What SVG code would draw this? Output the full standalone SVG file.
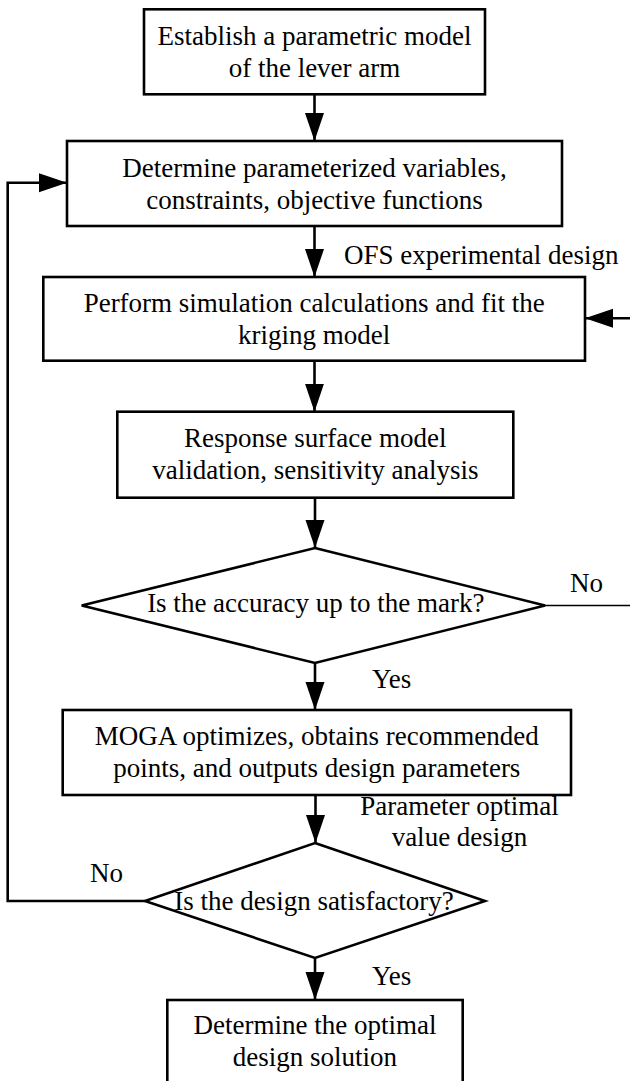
<svg xmlns="http://www.w3.org/2000/svg" width="630" height="1081" viewBox="0 0 630 1081">
  <style>
    .node rect, .node polygon { fill: #ffffff; stroke: #000000; stroke-width: 2.6; }
    text { font-family: "Liberation Serif", "Times New Roman", serif; font-size: 27px; fill: #000000; }
    .c { text-anchor: middle; }
    .conn { fill: none; stroke: #000000; stroke-width: 2.6; }
    .thin { fill: none; stroke: #000000; stroke-width: 1.3; }
  </style>
  <defs>
    <marker id="ah" markerUnits="userSpaceOnUse" markerWidth="28" markerHeight="20" refX="28" refY="9.5" orient="auto">
      <path d="M0,0 L28,9.5 L0,19 Z" fill="#000000"/>
    </marker>
  </defs>
  <rect x="0" y="0" width="630" height="1081" fill="#ffffff"/>

  <g id="connectors">
    <path class="conn" d="M314.5,94.3 V141" marker-end="url(#ah)"/>
    <path class="conn" d="M314.5,226 V277" marker-end="url(#ah)"/>
    <path class="conn" d="M314.5,360.7 V411.7" marker-end="url(#ah)"/>
    <path class="conn" d="M315,497.7 V548" marker-end="url(#ah)"/>
    <path class="conn" d="M315,663 V710" marker-end="url(#ah)"/>
    <path class="conn" d="M315.5,795 V843" marker-end="url(#ah)"/>
    <path class="conn" d="M315,958 V1000" marker-end="url(#ah)"/>
    <path class="conn" d="M145,901 H7.7 V182.7 H67" marker-end="url(#ah)"/>
    <path class="thin" d="M545,605.5 H630"/>
    <path class="conn" d="M632,318.3 H585" marker-end="url(#ah)"/>
  </g>

  <g id="n1" class="node">
    <rect x="144" y="9.3" width="341" height="85"/>
    <text class="c" x="314.5" y="45">Establish a parametric model</text>
    <text class="c" x="314.5" y="77">of the lever arm</text>
  </g>
  <g id="n2" class="node">
    <rect x="67" y="141" width="495" height="85"/>
    <text class="c" x="314.5" y="177">Determine parameterized variables,</text>
    <text class="c" x="314.5" y="209">constraints, objective functions</text>
  </g>
  <g id="n3" class="node">
    <rect x="43.3" y="277" width="541.7" height="83.7"/>
    <text class="c" x="314.2" y="312">Perform simulation calculations and fit the</text>
    <text class="c" x="314.2" y="344">kriging model</text>
  </g>
  <g id="n4" class="node">
    <rect x="117.3" y="411.7" width="396" height="86"/>
    <text class="c" x="315.3" y="447">Response surface model</text>
    <text class="c" x="315.3" y="479">validation, sensitivity analysis</text>
  </g>
  <g id="d1" class="node">
    <polygon points="315,548 545,605.5 315,663 81.7,605.5"/>
    <text class="c" x="315.8" y="612">Is the accuracy up to the mark?</text>
  </g>
  <g id="n5" class="node">
    <rect x="62.7" y="710" width="508.3" height="85"/>
    <text class="c" x="316.8" y="745">MOGA optimizes, obtains recommended</text>
    <text class="c" x="316.8" y="777">points, and outputs design parameters</text>
  </g>
  <g id="d2" class="node">
    <polygon points="315,843 485,901 315,958 145,901"/>
    <text class="c" x="314" y="910">Is the design satisfactory?</text>
  </g>
  <g id="n6" class="node">
    <rect x="167.3" y="1000" width="295.4" height="85"/>
    <text class="c" x="315" y="1034">Determine the optimal</text>
    <text class="c" x="315" y="1066">design solution</text>
  </g>

  <g id="labels">
    <text x="344" y="264">OFS experimental design</text>
    <text x="570" y="591.7">No</text>
    <text x="372" y="688">Yes</text>
    <text class="c" x="459.5" y="815">Parameter optimal</text>
    <text class="c" x="459.5" y="846">value design</text>
    <text x="90" y="882">No</text>
    <text x="372" y="984.5">Yes</text>
  </g>
</svg>
